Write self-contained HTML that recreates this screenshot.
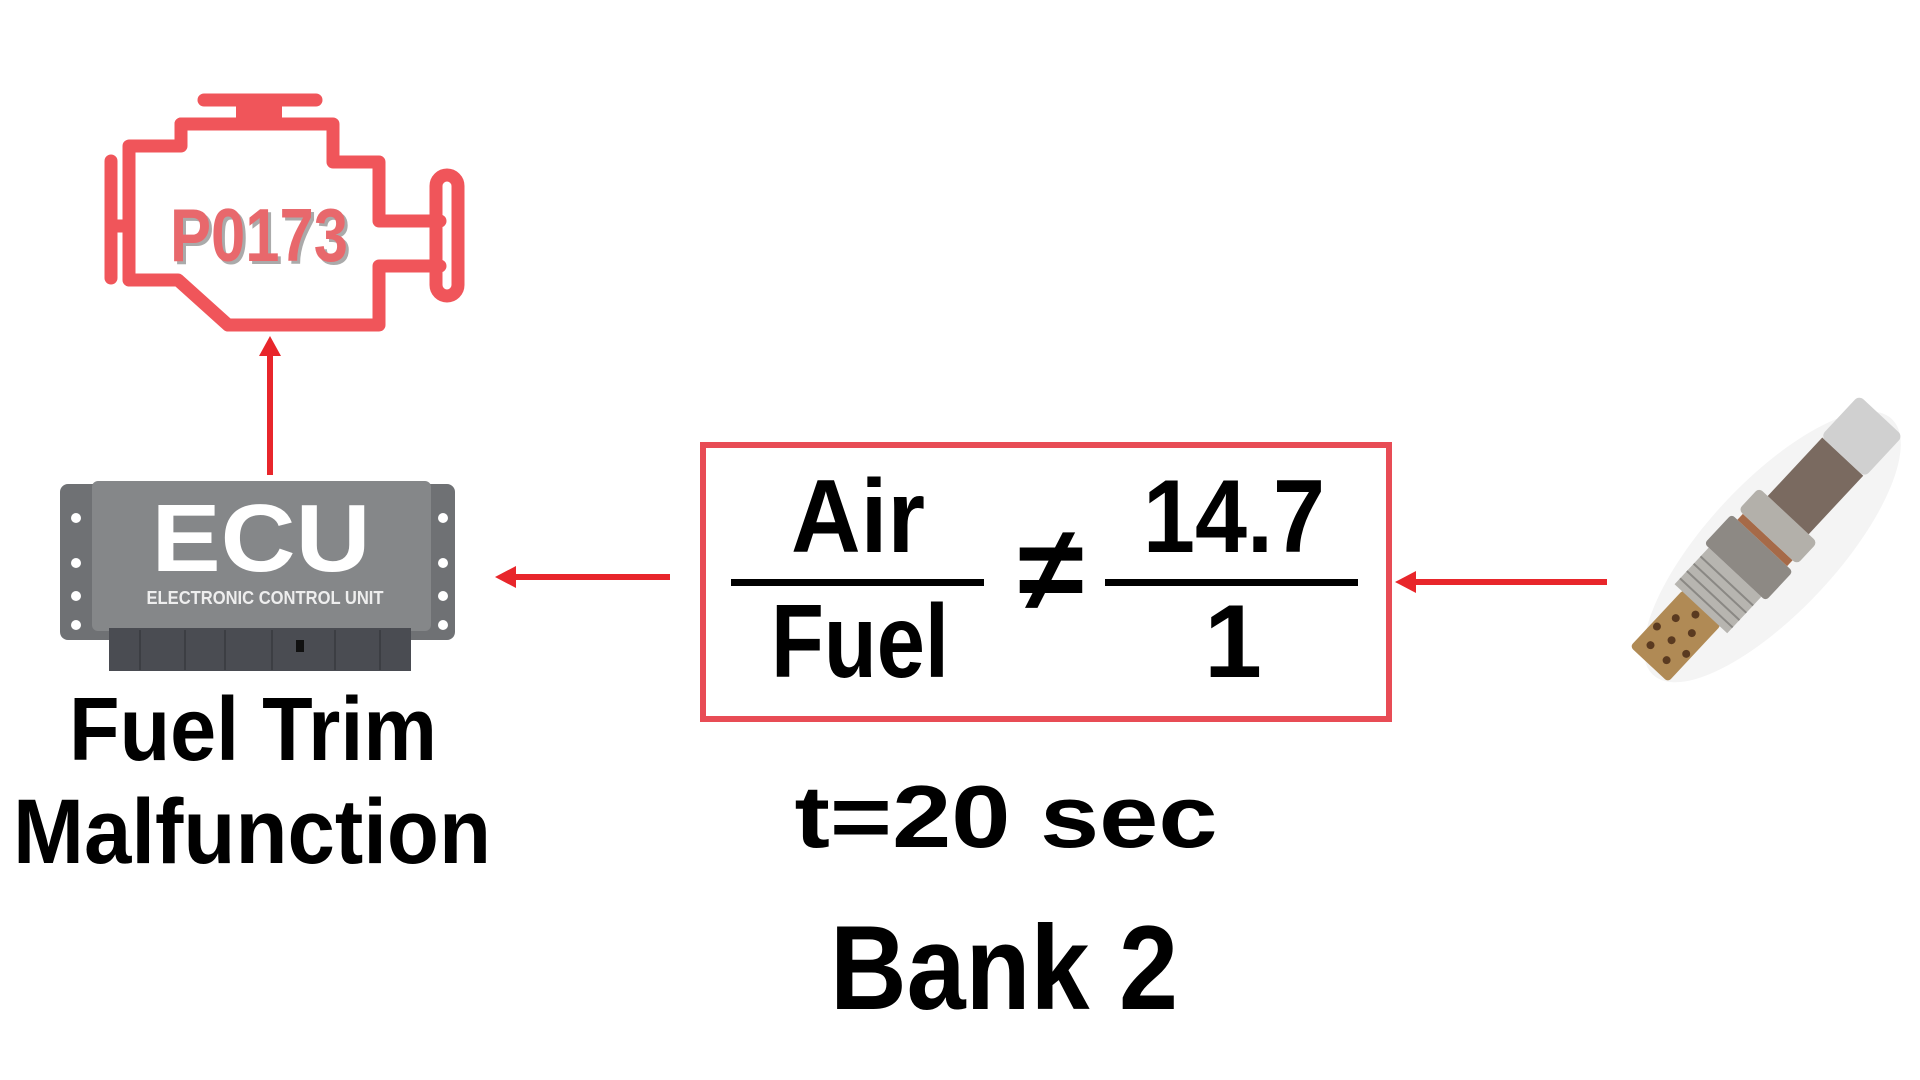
<!DOCTYPE html>
<html><head><meta charset="utf-8"><style>html,body{margin:0;padding:0;background:#fff}svg{display:block}</style></head>
<body>
<svg width="1920" height="1080" viewBox="0 0 1920 1080" xmlns="http://www.w3.org/2000/svg" font-family="Liberation Sans, sans-serif" font-weight="bold">
<rect width="1920" height="1080" fill="#fff"/>
<!-- Engine icon -->
<g fill="none" stroke="#f0555a" stroke-width="13" stroke-linejoin="round" stroke-linecap="round">
  <line x1="204" y1="100" x2="316" y2="100"/>
  <rect x="236" y="104" width="46" height="20" fill="#f0555a" stroke="none"/>
  <path d="M181,124 H333 V162 H379 V221 H440"/>
  <path d="M440,266 H379 V325 H228 L178,280 H129 V146 H181 V124"/>
  <rect x="436" y="175" width="22" height="121" rx="11"/>
  <line x1="111" y1="161" x2="111" y2="278"/>
  <line x1="111" y1="226" x2="129" y2="226"/>
</g>
<text x="262" y="264" font-size="75" fill="#aaa" text-anchor="middle" textLength="178" lengthAdjust="spacingAndGlyphs">P0173</text>
<text x="259" y="261" font-size="75" fill="#e8686c" text-anchor="middle" textLength="178" lengthAdjust="spacingAndGlyphs">P0173</text>
<!-- up arrow -->
<line x1="270" y1="475" x2="270" y2="352" stroke="#e8262b" stroke-width="6"/>
<polygon points="270,336 259,356 281,356" fill="#e8262b"/>
<!-- ECU -->
<rect x="60" y="484" width="395" height="156" rx="8" fill="#6f7174"/>
<rect x="92" y="481" width="339" height="150" rx="6" fill="#858789"/>
<g fill="#fff"><circle cx="76" cy="518" r="5"/><circle cx="76" cy="563" r="5"/><circle cx="76" cy="596" r="5"/><circle cx="76" cy="625" r="5"/>
<circle cx="443" cy="518" r="5"/><circle cx="443" cy="563" r="5"/><circle cx="443" cy="596" r="5"/><circle cx="443" cy="625" r="5"/></g>
<rect x="109" y="628" width="302" height="43" fill="#4a4c52"/>
<g stroke="#3c3e43" stroke-width="2"><line x1="140" y1="630" x2="140" y2="670"/><line x1="185" y1="630" x2="185" y2="670"/><line x1="225" y1="630" x2="225" y2="670"/><line x1="272" y1="630" x2="272" y2="670"/><line x1="335" y1="630" x2="335" y2="670"/><line x1="380" y1="630" x2="380" y2="670"/></g>
<rect x="296" y="640" width="8" height="12" fill="#111"/>
<text x="261" y="571" font-size="96" fill="#fff" text-anchor="middle" textLength="219" lengthAdjust="spacingAndGlyphs">ECU</text>
<text x="265" y="604" font-size="18" fill="#eee" text-anchor="middle" textLength="237" lengthAdjust="spacingAndGlyphs">ELECTRONIC CONTROL UNIT</text>
<text x="253" y="760" font-size="90" fill="#000" text-anchor="middle" textLength="368" lengthAdjust="spacingAndGlyphs">Fuel Trim</text>
<text x="252" y="863" font-size="92" fill="#000" text-anchor="middle" textLength="478" lengthAdjust="spacingAndGlyphs">Malfunction</text>
<!-- left arrow -->
<line x1="670" y1="577" x2="512" y2="577" stroke="#e8262b" stroke-width="6"/>
<polygon points="495,577 516,566 516,588" fill="#e8262b"/>
<!-- box -->
<rect x="703" y="445" width="686" height="274" fill="none" stroke="#e84c55" stroke-width="6"/>
<text x="858" y="552" font-size="104" fill="#000" text-anchor="middle" textLength="134" lengthAdjust="spacingAndGlyphs">Air</text>
<rect x="731" y="579" width="253" height="7" fill="#000"/>
<text x="860" y="677" font-size="104" fill="#000" text-anchor="middle" textLength="178" lengthAdjust="spacingAndGlyphs">Fuel</text>
<text x="1051" y="610" font-size="120" fill="#000" text-anchor="middle">≠</text>
<text x="1234" y="552" font-size="104" fill="#000" text-anchor="middle" textLength="182" lengthAdjust="spacingAndGlyphs">14.7</text>
<rect x="1105" y="579" width="253" height="7" fill="#000"/>
<text x="1233" y="677" font-size="104" fill="#000" text-anchor="middle">1</text>
<!-- right arrow -->
<line x1="1607" y1="582" x2="1412" y2="582" stroke="#e8262b" stroke-width="6"/>
<polygon points="1395,582 1416,571 1416,593" fill="#e8262b"/>
<text x="1006" y="847" font-size="88" fill="#000" text-anchor="middle" textLength="423" lengthAdjust="spacingAndGlyphs">t=20 sec</text>
<text x="1004" y="1009" font-size="120" fill="#000" text-anchor="middle" textLength="348" lengthAdjust="spacingAndGlyphs">Bank 2</text>
<!-- O2 sensor -->
<g transform="translate(1765,540) rotate(-47)">
  <ellipse cx="0" cy="10" rx="175" ry="65" fill="#f4f4f4"/>
  <rect x="-170" y="-26" width="78" height="52" rx="4" fill="#b08a55"/>
  <g fill="#5a3a20"><circle cx="-155" cy="-12" r="4"/><circle cx="-155" cy="10" r="4"/><circle cx="-137" cy="0" r="4"/><circle cx="-137" cy="-20" r="4"/><circle cx="-137" cy="20" r="4"/><circle cx="-118" cy="-12" r="4"/><circle cx="-118" cy="10" r="4"/><circle cx="-102" cy="0" r="4"/></g>
  <rect x="-94" y="-36" width="50" height="72" fill="#b7b5b0"/>
  <g stroke="#8a8884" stroke-width="2"><line x1="-86" y1="-36" x2="-86" y2="36"/><line x1="-76" y1="-36" x2="-76" y2="36"/><line x1="-66" y1="-36" x2="-66" y2="36"/><line x1="-56" y1="-36" x2="-56" y2="36"/></g>
  <rect x="-44" y="-42" width="40" height="84" rx="4" fill="#8d8984"/>
  <rect x="-4" y="-34" width="8" height="68" fill="#a66a48"/>
  <rect x="4" y="-40" width="30" height="80" rx="5" fill="#b3b0aa"/>
  <rect x="34" y="-28" width="80" height="56" fill="#7a6a60"/>
  <rect x="114" y="-30" width="56" height="60" rx="6" fill="#d0d0d0"/>
</g>
</svg>
</body></html>
